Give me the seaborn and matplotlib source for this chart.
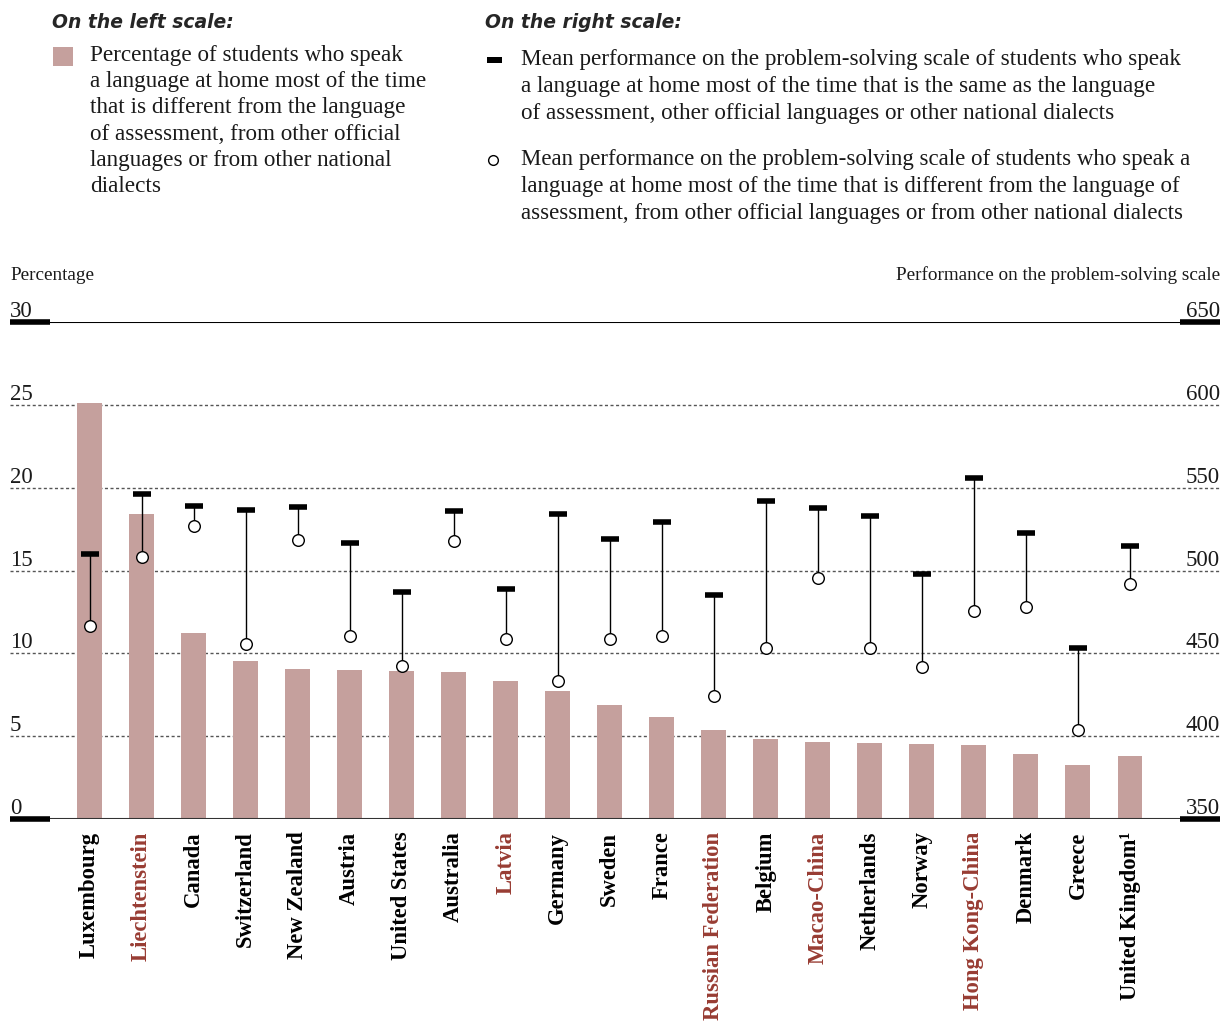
import matplotlib
matplotlib.use("Agg")
import matplotlib.pyplot as plt
from matplotlib.patches import Rectangle
from matplotlib.lines import Line2D
import seaborn as sns

# ── data ──────────────────────────────────────────────────
countries = ["Luxembourg", "Liechtenstein", "Canada", "Switzerland", "New Zealand",
             "Austria", "United States", "Australia", "Latvia", "Germany", "Sweden",
             "France", "Russian Federation", "Belgium", "Macao-China", "Netherlands",
             "Norway", "Hong Kong-China", "Denmark", "Greece", "United Kingdom\u00b9"]
partners = ["Liechtenstein", "Latvia", "Russian Federation", "Macao-China", "Hong Kong-China"]
pct_other_lang = [25.1, 18.4, 11.25, 9.55, 9.05, 9.0, 8.95, 8.9, 8.35, 7.75, 6.9,
                  6.15, 5.4, 4.8, 4.65, 4.6, 4.55, 4.45, 3.9, 3.25, 3.8]
perf_same_lang = [510, 546, 539, 536.5, 538.5, 516.5, 487, 536, 489, 534, 519,
                  529, 485, 542, 537.5, 533, 498, 556, 522.5, 453.5, 514.5]
perf_other_lang = [466.5, 508, 527, 455.5, 518.5, 460.5, 442.5, 518, 458.5, 433, 458.5,
                   460.5, 424, 453, 495.5, 453, 442, 475.5, 478, 404, 492]
left_ticks = [0, 5, 10, 15, 20, 25, 30]
right_ticks = [350, 400, 450, 500, 550, 600, 650]

left_legend = ["Percentage of students who speak",
               "a language at home most of the time",
               "that is different from the language",
               "of assessment, from other official",
               "languages or from other national",
               "dialects"]
same_legend = ["Mean performance on the problem-solving scale of students who speak",
               "a language at home most of the time that is the same as the language",
               "of assessment, other official languages or other national dialects"]
other_legend = ["Mean performance on the problem-solving scale of students who speak a",
                "language at home most of the time that is different from the language of",
                "assessment, from other official languages or from other national dialects"]

sns.set_theme(style="white")
plt.rcParams["font.family"] = ["Liberation Serif", "DejaVu Serif"]

BAR = "#c5a09d"
RED = "#983c33"
INK = "#1a1a1a"
W, H = 1220, 1027

def fx(px):
    return px / W

def fy(py):
    return 1 - py / H

fig = plt.figure(figsize=(W / 100, H / 100), dpi=100)
ax = fig.add_axes([fx(10), fy(819), 1210 / W, 497 / H])

sns.barplot(x=countries, y=pct_other_lang, color=BAR, saturation=1,
            width=0.48, linewidth=0, ax=ax, zorder=2)
ax.set_xlim(-1.53, 21.73)
ax.set_ylim(0, 30)
ax.set_xlabel(""); ax.set_ylabel("")
ax.set_yticks([])
for s in ax.spines.values():
    s.set_visible(False)

# grid + frame lines
for v in left_ticks[1:-1]:
    ax.axhline(v, color="#555555", lw=1, ls=(0, (2.2, 1.8)), zorder=1)
ax.axhline(30, color="black", lw=1.5, zorder=1)
ax.axhline(0, color="#333333", lw=1.5, zorder=3)
yt = ax.get_yaxis_transform()
for y0 in (30, 0):
    ax.plot([0, 40 / 1210], [y0, y0], transform=yt, color="black", lw=4,
            solid_capstyle="butt", clip_on=False, zorder=4)
    ax.plot([1170 / 1210, 1], [y0, y0], transform=yt, color="black", lw=4,
            solid_capstyle="butt", clip_on=False, zorder=4)

for v in left_ticks:
    ax.text(0, v, f"{v}", transform=yt, ha="left", va="bottom",
            fontsize=16.5, color=INK)

# country labels
ax.tick_params(axis="x", length=0, pad=9)
ax.set_xticks(range(len(countries)))
ax.set_xticklabels(countries, rotation=90, fontsize=16.3, fontweight="bold")
for lbl in ax.get_xticklabels():
    lbl.set_color(RED if lbl.get_text() in partners else "black")

# right scale
ax2 = ax.twinx()
ax2.set_ylim(350, 650)
ax2.set_yticks([])
ax2.grid(False)
for s in ax2.spines.values():
    s.set_visible(False)
yt2 = ax2.get_yaxis_transform()
for v in right_ticks:
    ax2.text(1, v, f"{v}", transform=yt2, ha="right", va="bottom",
             fontsize=16.5, color=INK)

ax2.vlines(countries, perf_other_lang, perf_same_lang, color="black", lw=1, zorder=3)
ax2.plot(countries, perf_same_lang, ls="none", marker="_", ms=12.5, mew=4,
         color="black", zorder=5)
sns.scatterplot(x=countries, y=perf_other_lang, ax=ax2, marker="o", s=70,
                facecolor="white", edgecolor="black", linewidth=1, zorder=6)

# axis titles
fig.text(fx(10), fy(275), "Percentage", ha="left", va="center",
         fontsize=13.8, color=INK)
fig.text(fx(1220), fy(275), "Performance on the problem-solving scale",
         ha="right", va="center", fontsize=13.8, color=INK)

# legend block
head = dict(family=["DejaVu Sans"], fontweight="bold",
            fontstyle="italic", fontsize=13.5, va="center", ha="left")
fig.text(fx(52), fy(22), "On the left scale:", **head)
fig.text(fx(485), fy(22), "On the right scale:", **head)

fig.add_artist(Rectangle((fx(53), fy(66)), 20 / W, 19 / H,
                         transform=fig.transFigure, color=BAR, lw=0))
for i, line in enumerate(left_legend):
    fig.text(fx(90), fy(55 + i * 26.4), line, ha="left", va="center",
             fontsize=16.7, color=INK)

fig.add_artist(Rectangle((fx(487), fy(63)), 15 / W, 6 / H,
                         transform=fig.transFigure, color="black", lw=0))
for i, line in enumerate(same_legend):
    fig.text(fx(521), fy(60 + i * 26.5), line, ha="left", va="center",
             fontsize=16.7, color=INK)

fig.add_artist(Line2D([fx(493)], [fy(160)], marker="o", ms=7, mfc="white",
                      mec="black", mew=1, transform=fig.transFigure))
for i, line in enumerate(other_legend):
    fig.text(fx(521), fy(160 + i * 26.5), line, ha="left", va="center",
             fontsize=16.5, color=INK)

fig.savefig("out.png", dpi=100)
